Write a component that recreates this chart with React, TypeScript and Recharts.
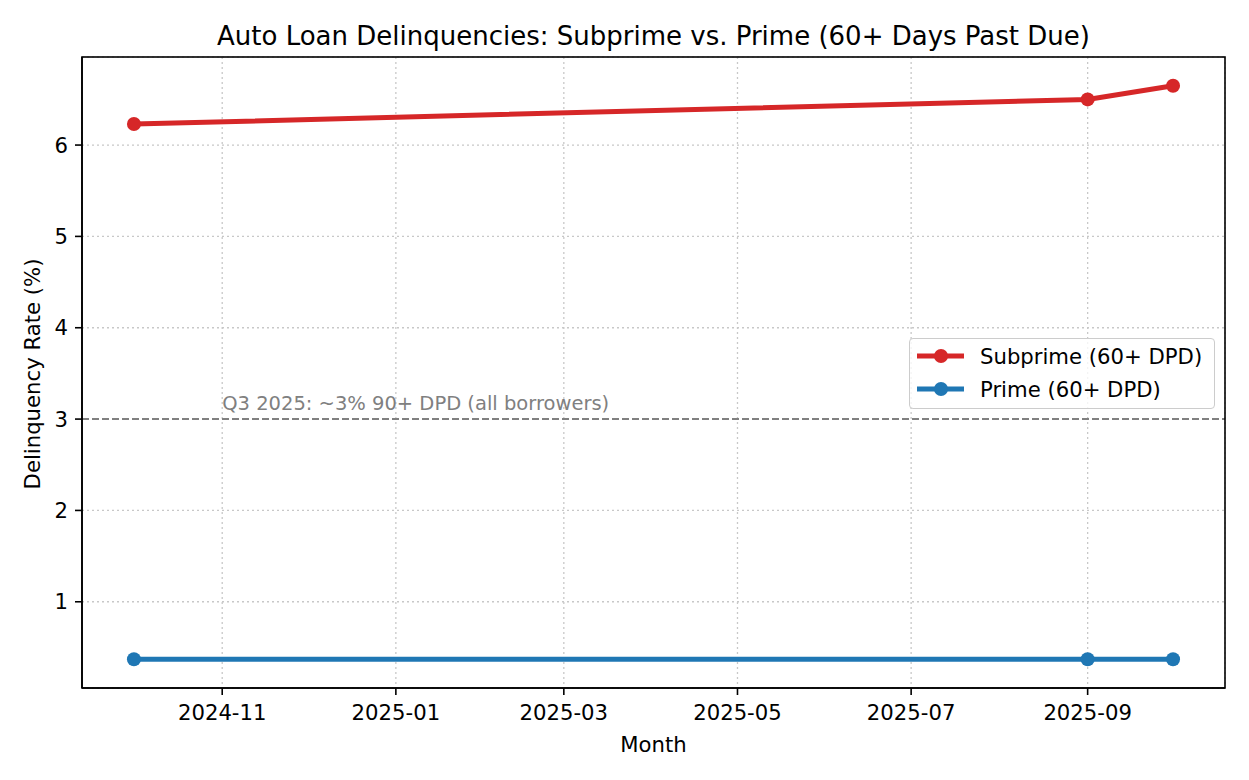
import React from "react";
import {
  CartesianGrid,
  Line,
  LineChart,
  ReferenceDot,
  ReferenceLine,
  XAxis,
  YAxis,
} from "recharts";

// observation months (first of month, UTC)
const months = ["2024-10", "2025-09", "2025-10"];
const subprime = [6.23, 6.5, 6.65];
const prime = [0.37, 0.37, 0.37];

const xTickLabels = ["2024-11", "2025-01", "2025-03", "2025-05", "2025-07", "2025-09"];
const yTicks = [1, 2, 3, 4, 5, 6];

const refValue = 3;
const refNote = "Q3 2025: ~3% 90+ DPD (all borrowers)";
const refNoteAt = "2024-11";

const RED = "#d62728";
const BLUE = "#1f77b4";
const FONT = "'DejaVu Sans', sans-serif";
const FS = 21.2;

// plot box, same numbers as the chart margins below
const PLOT = { left: 82, top: 57, right: 1225, bottom: 688 };

function toTime(m: string) {
  const [y, mo] = m.split("-").map(Number);
  return Date.UTC(y, mo - 1, 1);
}

function fmtMonth(t: number) {
  const d = new Date(t);
  return `${d.getUTCFullYear()}-${String(d.getUTCMonth() + 1).padStart(2, "0")}`;
}

const data = months.map((m, i) => ({ t: toTime(m), subprime: subprime[i], prime: prime[i] }));
const xTicks = xTickLabels.map(toTime);

// matplotlib-style 5% margins
const tMin = data[0].t;
const tMax = data[data.length - 1].t;
const tPad = (tMax - tMin) * 0.05;
const allY = [...subprime, ...prime];
const yMin = Math.min(...allY);
const yMax = Math.max(...allY);
const yPad = (yMax - yMin) * 0.05;

const legendItems = [
  { label: "Subprime (60+ DPD)", color: RED },
  { label: "Prime (60+ DPD)", color: BLUE },
];

function LegendBox() {
  return (
    <div
      style={{
        position: "absolute",
        left: 909,
        top: 338,
        width: 304,
        height: 69,
        border: "1px solid #cccccc",
        borderRadius: 4,
        background: "rgba(255,255,255,0.8)",
        fontFamily: FONT,
        fontSize: FS,
        color: "#000",
      }}
    >
      {legendItems.map((it, i) => (
        <div key={it.label} style={{ position: "absolute", left: 6, top: 1 + i * 33, height: 32, display: "flex", alignItems: "center" }}>
          <svg width={50} height={32}>
            <line x1={1} y1={16} x2={48} y2={16} stroke={it.color} strokeWidth={5} />
            <circle cx={25} cy={16} r={7} fill={it.color} />
          </svg>
          <span style={{ marginLeft: 14, whiteSpace: "nowrap" }}>{it.label}</span>
        </div>
      ))}
    </div>
  );
}

export default function App() {
  return (
    <div style={{ position: "absolute", left: 0, top: 0, width: 1249, height: 780, background: "#fff", fontFamily: FONT }}>
      <LineChart
        width={1249}
        height={780}
        data={data}
        margin={{ top: PLOT.top, right: 1249 - PLOT.right, bottom: 780 - PLOT.bottom - 50, left: PLOT.left - 60 }}
      >
        <CartesianGrid stroke="#c8c8c8" strokeDasharray="2 3" strokeWidth={1.3} />
        <XAxis
          dataKey="t"
          type="number"
          scale="time"
          domain={[tMin - tPad, tMax + tPad]}
          ticks={xTicks}
          tickFormatter={fmtMonth}
          height={50}
          tickSize={7}
          tickMargin={10}
          stroke="#000"
          strokeWidth={1.6}
          tick={{ fill: "#000", fontSize: FS, fontFamily: FONT }}
          allowDataOverflow
        />
        <YAxis
          type="number"
          domain={[yMin - yPad, yMax + yPad]}
          ticks={yTicks}
          width={60}
          tickSize={7}
          tickMargin={7}
          stroke="#000"
          strokeWidth={1.6}
          tick={{ fill: "#000", fontSize: FS, fontFamily: FONT }}
          allowDataOverflow
        />
        <ReferenceLine y={refValue} stroke="#808080" strokeWidth={2} strokeDasharray="7 3" />
        <ReferenceDot
          x={toTime(refNoteAt)}
          y={refValue + 0.1}
          r={0}
          shape={(p: any) => (
            <text x={p.cx} y={p.cy} fill="#808080" fontSize={19.5} fontFamily={FONT}>
              {refNote}
            </text>
          )}
        />
        <Line
          type="linear"
          dataKey="subprime"
          name="Subprime (60+ DPD)"
          stroke={RED}
          strokeWidth={5}
          dot={{ r: 7, fill: RED, stroke: RED, strokeWidth: 0 }}
          isAnimationActive={false}
        />
        <Line
          type="linear"
          dataKey="prime"
          name="Prime (60+ DPD)"
          stroke={BLUE}
          strokeWidth={5}
          dot={{ r: 7, fill: BLUE, stroke: BLUE, strokeWidth: 0 }}
          isAnimationActive={false}
        />
      </LineChart>
      <svg width={1249} height={780} style={{ position: "absolute", left: 0, top: 0, pointerEvents: "none" }}>
        <rect
          x={PLOT.left}
          y={PLOT.top}
          width={PLOT.right - PLOT.left}
          height={PLOT.bottom - PLOT.top}
          fill="none"
          stroke="#000"
          strokeWidth={1.6}
        />
        <text x={653.5} y={45} textAnchor="middle" fontSize={26} fontFamily={FONT} fill="#000">
          Auto Loan Delinquencies: Subprime vs. Prime (60+ Days Past Due)
        </text>
        <text x={653.5} y={752} textAnchor="middle" fontSize={FS} fontFamily={FONT} fill="#000">
          Month
        </text>
        <text x={40} y={374} textAnchor="middle" fontSize={FS} fontFamily={FONT} fill="#000" transform="rotate(-90 40 374)">
          Delinquency Rate (%)
        </text>
      </svg>
      <LegendBox />
    </div>
  );
}
